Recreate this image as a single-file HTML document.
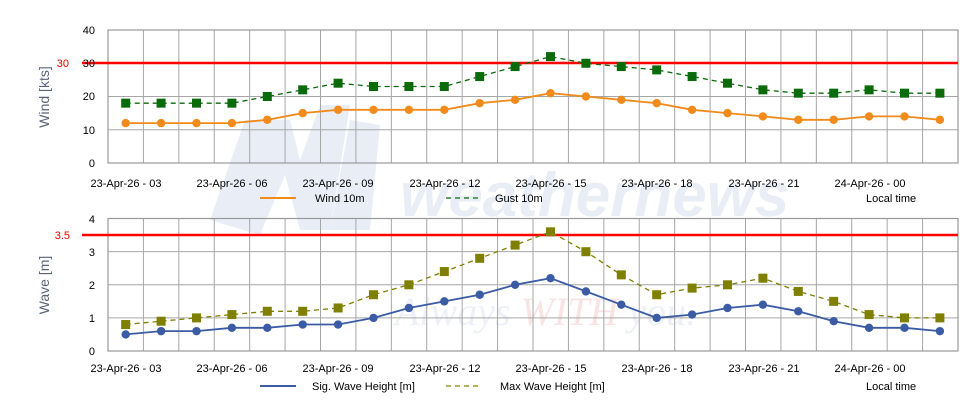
<!DOCTYPE html>
<html><head><meta charset="utf-8"><style>
html,body{margin:0;padding:0;background:#fff;}
svg{display:block;font-family:"Liberation Sans",sans-serif;}
</style></head><body>
<svg id="s" width="980" height="420" viewBox="0 0 980 420" xmlns="http://www.w3.org/2000/svg">
<rect width="980" height="420" fill="#fff"/>
<g fill="#e9eef6">
<polygon points="210,220 245,120 290,120 300,160 320,105 350,105 330,230 300,230 285,175 260,235"/>
<polygon points="330,230 350,120 380,125 370,230"/>
</g>
<text x="400" y="216" font-size="62" font-weight="bold" font-style="italic" fill="#e9eef6">weathernews</text>
<text x="395" y="325" font-size="40" font-style="italic" font-family="Liberation Serif,serif" fill="#edf0f6">Always <tspan fill="#f8e4e4">WITH</tspan> you.</text>
<g id="g"></g>
<g font-size="11" fill="#000" text-anchor="end">
<text x="95" y="34">40</text><text x="95" y="67">30</text><text x="95" y="100">20</text><text x="95" y="134">10</text><text x="95" y="167">0</text>
<text x="95" y="223">4</text><text x="95" y="256">3</text><text x="95" y="289">2</text><text x="95" y="322">1</text><text x="95" y="355">0</text>
</g>
<text x="69" y="67" font-size="11" fill="#e00" text-anchor="end">30</text>
<text x="70" y="239" font-size="11" fill="#e00" text-anchor="end">3.5</text>
<text transform="translate(49,97) rotate(-90)" font-size="14" fill="#5a6478" text-anchor="middle">Wind [kts]</text>
<text transform="translate(49,285) rotate(-90)" font-size="14" fill="#5a6478" text-anchor="middle">Wave [m]</text>
<g font-size="11" fill="#000" text-anchor="middle">
<text x="126" y="187">23-Apr-26 - 03</text><text x="232" y="187">23-Apr-26 - 06</text><text x="338" y="187">23-Apr-26 - 09</text><text x="445" y="187">23-Apr-26 - 12</text><text x="551" y="187">23-Apr-26 - 15</text><text x="657" y="187">23-Apr-26 - 18</text><text x="764" y="187">23-Apr-26 - 21</text><text x="870" y="187">24-Apr-26 - 00</text>
<text x="126" y="372">23-Apr-26 - 03</text><text x="232" y="372">23-Apr-26 - 06</text><text x="338" y="372">23-Apr-26 - 09</text><text x="445" y="372">23-Apr-26 - 12</text><text x="551" y="372">23-Apr-26 - 15</text><text x="657" y="372">23-Apr-26 - 18</text><text x="764" y="372">23-Apr-26 - 21</text><text x="870" y="372">24-Apr-26 - 00</text>
</g>
<g font-size="11" fill="#000">
<line x1="260" y1="198" x2="296" y2="198" stroke="#f28a1c" stroke-width="2"/>
<text x="315" y="202">Wind 10m</text>
<line x1="446" y1="198" x2="482" y2="198" stroke="#2e7d32" stroke-width="1.5" stroke-dasharray="5,4"/>
<text x="495" y="202">Gust 10m</text>
<text x="866" y="202">Local time</text>
<line x1="260" y1="386" x2="296" y2="386" stroke="#3b5ba5" stroke-width="2"/>
<text x="312" y="390">Sig. Wave Height [m]</text>
<line x1="446" y1="386" x2="482" y2="386" stroke="#9a9a2a" stroke-width="1.5" stroke-dasharray="5,4"/>
<text x="500" y="390">Max Wave Height [m]</text>
<text x="866" y="390">Local time</text>
</g>
</svg>
<script>
(function(){
var g=document.getElementById('g'),h='';
function X(i){return 125.7+35.4*i;}
function grid(top,bot){
 for(var i=0;i<=24;i++){var x=108+35.417*i;h+='<line x1="'+x+'" y1="'+top+'" x2="'+x+'" y2="'+bot+'" stroke="#a6a6a6" stroke-width="1"/>';}
 for(var j=0;j<=4;j++){var y=top+(bot-top)*j/4;h+='<line x1="108" y1="'+y+'" x2="958" y2="'+y+'" stroke="#a6a6a6" stroke-width="1"/>';}
 h+='<rect x="108" y="'+top+'" width="850" height="'+(bot-top)+'" fill="none" stroke="#999" stroke-width="1.2"/>';
}
grid(30,163);grid(218.5,351);
h+='<line x1="82" y1="63" x2="958" y2="63" stroke="#f00" stroke-width="2.5"/>';
h+='<line x1="82" y1="235" x2="958" y2="235" stroke="#f00" stroke-width="2.5"/>';
var wind=[12,12,12,12,13,15,16,16,16,16,18,19,21,20,19,18,16,15,14,13,13,14,14,13];
var gust=[18,18,18,18,20,22,24,23,23,23,26,29,32,30,29,28,26,24,22,21,21,22,21,21];
var sig=[0.5,0.6,0.6,0.7,0.7,0.8,0.8,1.0,1.3,1.5,1.7,2.0,2.2,1.8,1.4,1.0,1.1,1.3,1.4,1.2,0.9,0.7,0.7,0.6];
var mx=[0.8,0.9,1.0,1.1,1.2,1.2,1.3,1.7,2.0,2.4,2.8,3.2,3.6,3.0,2.3,1.7,1.9,2.0,2.2,1.8,1.5,1.1,1.0,1.0];
function ser(d,fy,col,dash,sq){
 var p=d.map(function(v,i){return X(i).toFixed(1)+','+fy(v).toFixed(1);}).join(' ');
 h+='<polyline points="'+p+'" fill="none" stroke="'+col+'" stroke-width="'+(dash?1.3:1.8)+'"'+(dash?' stroke-dasharray="5,4"':'')+'/>';
 d.forEach(function(v,i){var x=X(i),y=fy(v);
  if(sq)h+='<rect x="'+(x-4.5)+'" y="'+(y-4.5)+'" width="9" height="9" fill="'+col+'"/>';
  else h+='<circle cx="'+x+'" cy="'+y+'" r="4.2" fill="'+col+'"/>';});
}
var ty=function(v){return 163-v*3.325;},by=function(v){return 351-v*33.1;};
ser(gust,ty,'#0b6b0b',true,true);
ser(wind,ty,'#f28a1c',false,false);
ser(mx,by,'#7f7f00',true,true);
ser(sig,by,'#3b5ba5',false,false);
g.innerHTML=h;
})();
</script>
</body></html>
